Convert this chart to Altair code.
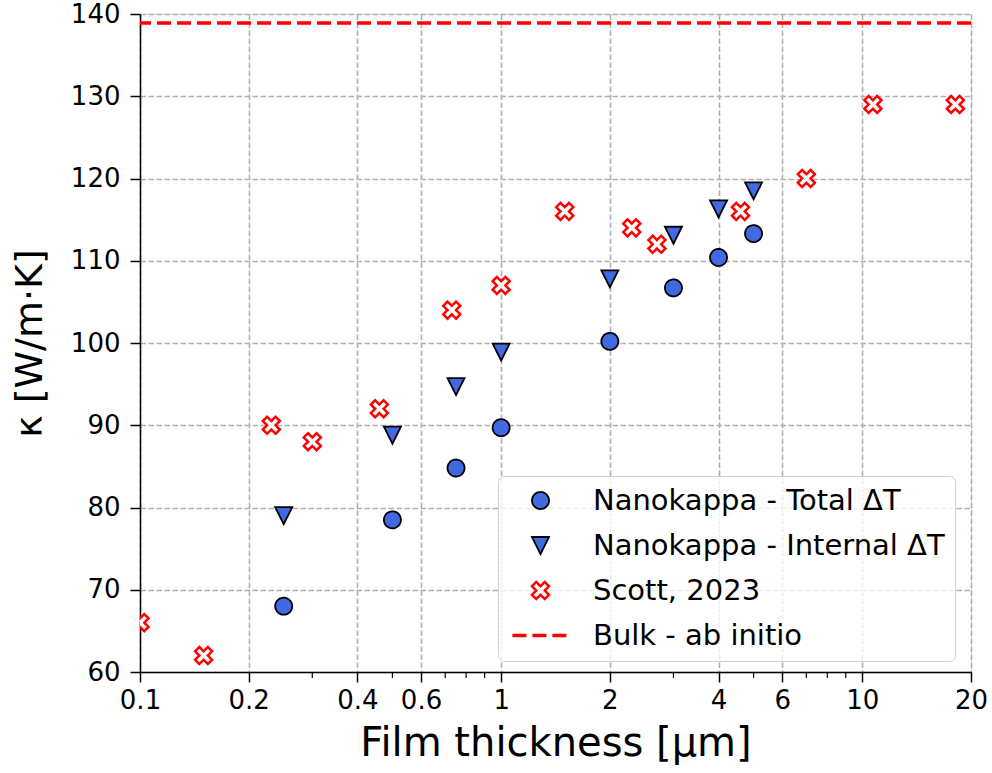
import altair as alt
import pandas as pd

# ---- data ----
total_x = [0.25, 0.5, 0.75, 1.0, 2.0, 3.0, 4.0, 5.0]
total_y = [68.0, 78.5, 84.8, 89.7, 100.2, 106.7, 110.4, 113.3]

internal_x = [0.25, 0.5, 0.75, 1.0, 2.0, 3.0, 4.0, 5.0]
internal_y = [79.0, 88.8, 94.7, 98.9, 107.8, 113.1, 116.3, 118.5]

scott_x = [0.1, 0.15, 0.231, 0.30, 0.46, 0.73, 1.0, 1.5, 2.3, 2.7, 4.6, 7.0, 10.7, 18.1]
scott_y = [66, 62, 90, 88, 92, 104, 107, 116, 114, 112, 116, 120, 129, 129]

bulk_y = [138.9]

series = ["Nanokappa - Total ΔT", "Nanokappa - Internal ΔT", "Scott, 2023", "Bulk - ab initio"]

x_major = [0.1, 0.2, 0.4, 0.6, 1, 2, 4, 6, 10, 20]
x_minor = [0.3, 0.5, 0.7, 0.8, 0.9, 3, 5, 7, 8, 9]
y_ticks = [60, 70, 80, 90, 100, 110, 120, 130, 140]

# ---- tables ----
pts = pd.concat([
    pd.DataFrame({"x": total_x, "y": total_y, "series": series[0]}),
    pd.DataFrame({"x": internal_x, "y": internal_y, "series": series[1]}),
    pd.DataFrame({"x": scott_x, "y": scott_y, "series": series[2]}),
], ignore_index=True)
bulk = pd.DataFrame({"y": bulk_y, "series": [series[3]]})
minor = pd.DataFrame({"x": x_minor})

FONT = "DejaVu Sans"
tri_down = "M0,1L-1,-1L1,-1Z"
x_filled = "M-0.5,-1L0,-0.5L0.5,-1L1,-0.5L0.5,0L1,0.5L0.5,1L0,0.5L-0.5,1L-1,0.5L-0.5,0L-1,-0.5Z"
dash_line = "M-3.3,0L3.3,0"

xscale = alt.Scale(type="log", domain=[0.1, 20], nice=False)
yscale = alt.Scale(domain=[60, 140], nice=False, zero=False)

legend = alt.Legend(
    title=None, orient="none", legendX=358, legendY=462,
    labelFontSize=29, labelFont=FONT, labelColor="black", labelLimit=0,
    symbolSize=290, rowPadding=15, padding=10,
    symbolOffset=18, labelOffset=38,
    fillColor="rgba(255,255,255,0.8)", strokeColor="#d0d0d0", cornerRadius=6,
)

shape_s = alt.Scale(domain=series, range=["circle", tri_down, x_filled, dash_line])
fill_s = alt.Scale(domain=series, range=["royalblue", "royalblue", "white", "red"])
stroke_s = alt.Scale(domain=series, range=["black", "black", "red", "red"])
dash_s = alt.Scale(domain=series, range=[[1, 0], [1, 0], [1, 0], [14, 6]])
sw_s = alt.Scale(type="ordinal", domain=series, range=[1.8, 1.8, 2.5, 3.5])

x_axis = alt.Axis(
    values=x_major, format="~g", title="Film thickness [μm]",
    labelFontSize=26, titleFontSize=40, labelFont=FONT, titleFont=FONT,
    titleFontWeight="normal", labelColor="black", titleColor="black",
    tickSize=10, tickWidth=1.5, tickColor="black",
    domainColor="black", domainWidth=1.5,
    grid=True, gridDash=[5.5, 2.5], gridColor="#b0b0b0", gridWidth=1.6,
    labelPadding=5, titlePadding=10, labelFlush=False, labelOverlap=False,
)
y_axis = alt.Axis(
    values=y_ticks, title="κ [W/m·K]",
    labelFontSize=26, titleFontSize=38, labelFont=FONT, titleFont=FONT,
    titleFontWeight="normal", labelColor="black", titleColor="black",
    tickSize=10, tickWidth=1.5, tickColor="black",
    domainColor="black", domainWidth=1.5,
    grid=True, gridDash=[5.5, 2.5], gridColor="#b0b0b0", gridWidth=1.6,
    labelPadding=10, titlePadding=21, labelFlush=False, labelOverlap=False,
)

points = alt.Chart(pts).mark_point(opacity=1, size=290, clip=True).encode(
    x=alt.X("x:Q", scale=xscale, axis=x_axis),
    y=alt.Y("y:Q", scale=yscale, axis=y_axis),
    shape=alt.Shape("series:N", scale=shape_s, legend=legend),
    fill=alt.Fill("series:N", scale=fill_s, legend=legend),
    stroke=alt.Stroke("series:N", scale=stroke_s, legend=legend),
    strokeDash=alt.StrokeDash("series:N", scale=dash_s, legend=legend),
    strokeWidth=alt.StrokeWidth("series:N", scale=sw_s, legend=legend),
)

bulk_line = alt.Chart(bulk).mark_rule().encode(
    y=alt.Y("y:Q", scale=yscale),
    stroke=alt.Stroke("series:N", scale=stroke_s, legend=legend),
    strokeDash=alt.StrokeDash("series:N", scale=dash_s, legend=legend),
    strokeWidth=alt.StrokeWidth("series:N", scale=sw_s, legend=legend),
)

# minor ticks on the log axis (positions through the x scale)
minor_ticks = alt.Chart(minor).mark_rule(color="black", strokeWidth=1.2).encode(
    x=alt.X("x:Q", scale=xscale),
    y=alt.value(658),
    y2=alt.value(664),
)

chart = alt.layer(bulk_line, points, minor_ticks).properties(
    width=831, height=658,
    autosize=alt.AutoSizeParams(type="none"),
    padding={"left": 140, "top": 14, "right": 21, "bottom": 101},
).configure_view(
    stroke="black", strokeWidth=1.5
).configure(background="white")

chart.save("out.html", embed_options={"renderer": "svg", "actions": False})
